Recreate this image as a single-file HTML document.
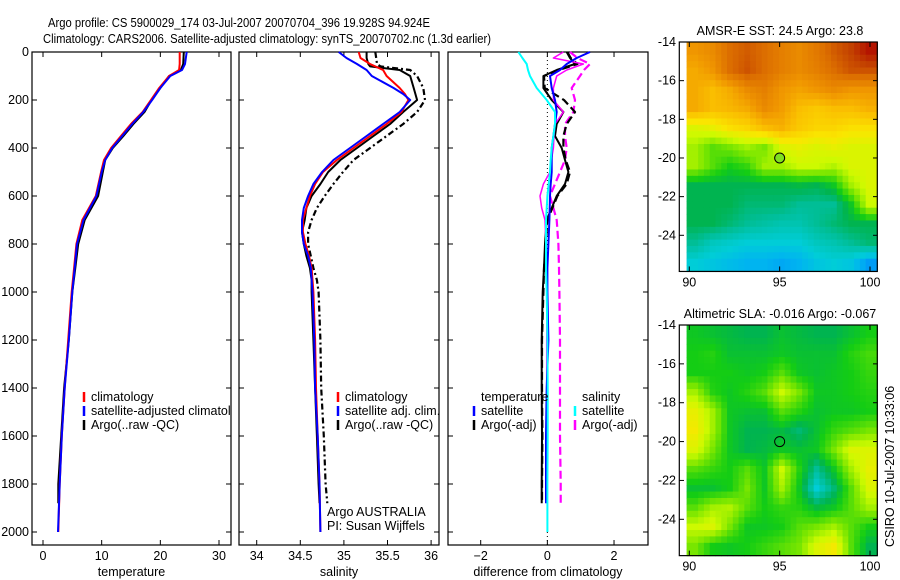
<!DOCTYPE html>
<html><head><meta charset="utf-8">
<style>
body{margin:0;background:#fff;}
svg{display:block;font-family:"Liberation Sans",sans-serif;}
text{font-size:12.5px;fill:#000;}
</style></head>
<body>
<svg id="chart" width="900" height="580" viewBox="0 0 900 580" xmlns="http://www.w3.org/2000/svg">
<defs><clipPath id="clip1"><rect x="32" y="52" width="199" height="493"/></clipPath></defs>
<rect width="900" height="580" fill="#fff"/>
<text x="48" y="27" font-size="14" textLength="382" lengthAdjust="spacingAndGlyphs">Argo profile: CS 5900029_174 03-Jul-2007 20070704_396 19.928S 94.924E</text>
<text x="43" y="43" font-size="14" textLength="448" lengthAdjust="spacingAndGlyphs">Climatology: CARS2006. Satellite-adjusted climatology: synTS_20070702.nc (1.3d earlier)</text>
<g id="g"></g>
</svg>
<script>
// ---- depth grids ----
const tDepth = [0,50,75,100,150,200,250,300,350,400,450,500,600,700,800,900,1000,1200,1400,1600,1800,2000];
const tClim  = [23.3,23.3,23.2,21.5,19.8,18.4,17.0,15.0,13.3,11.6,10.4,9.9,9.0,6.7,5.7,5.3,4.9,4.3,3.7,3.2,2.85,2.6];
const tSat   = [24.5,24.2,23.7,21.7,20.0,18.6,17.1,15.2,13.5,11.8,10.6,10.0,9.1,6.9,5.8,5.4,5.0,4.4,3.7,3.2,2.85,2.56];
const tArgo  = [24.0,23.9,23.5,21.5,20.0,18.5,17.3,15.4,13.7,11.9,10.6,10.2,9.4,7.1,6.0,5.5,5.0,4.4,3.6,3.1,2.6,2.6];
const sDepth = [0,25,50,75,100,150,175,200,250,300,350,400,450,500,550,600,650,700,750,800,850,900,1000,1200,1400,1600,1800,2000];
const sClim  = [35.17,35.19,35.30,35.45,35.49,35.64,35.70,35.74,35.66,35.49,35.30,35.11,34.92,34.76,34.67,34.61,34.57,34.53,34.53,34.56,34.60,34.63,34.65,34.67,34.68,34.70,34.72,34.73];
const sSat   = [34.94,35.03,35.15,35.26,35.32,35.57,35.68,35.76,35.64,35.45,35.26,35.07,34.88,34.75,34.65,34.59,34.54,34.52,34.52,34.54,34.59,34.62,34.64,34.66,34.67,34.70,34.72,34.73];
const aDepth = [0,25,50,60,75,100,150,200,250,300,350,400,450,500,550,600,650,700,750,800,850,900,950,1000,1200,1400,1600,1800,1880];
const sArgo  = [35.26,35.26,35.28,35.30,35.64,35.76,35.80,35.84,35.68,35.53,35.34,35.15,34.96,34.82,34.73,34.63,34.57,34.55,34.52,34.54,34.57,34.61,34.63,34.63,34.65,34.67,34.69,34.71,34.72];
const sArgoD = [35.36,35.37,35.38,35.42,35.76,35.84,35.91,35.93,35.84,35.68,35.49,35.30,35.11,34.99,34.88,34.78,34.69,34.63,34.59,34.59,34.62,34.65,34.69,34.71,34.73,34.74,34.77,34.79,34.81];
// ---- differences ----
const dDepth = [0,25,50,75,100,150,200,250,300,350,400,450,500,550,600,650,700,800,900,1000,1200,1400,1600,1800,1880];
const dTSat  = [1.28,0.88,0.58,0.38,0.08,0.13,0.23,0.28,0.23,0.18,0.13,0.13,0.13,0.1,0.08,0.07,0.06,0.03,0,0,0.03,-0.02,-0.04,-0.04,-0.04];
const dTArgo = [0.58,0.68,0.83,0.28,-0.12,-0.12,0.13,0.48,0.28,0.23,0.43,0.53,0.63,0.53,0.28,0.13,-0.02,-0.07,-0.1,-0.14,-0.17,-0.17,-0.16,-0.17,-0.17];
const dTArgoD= [0.6,0.7,0.9,0.35,-0.1,-0.08,0.5,0.83,0.58,0.48,0.48,0.55,0.68,0.58,0.3,0.15,0.0,-0.05,-0.1,-0.12,-0.16,-0.16,-0.15,-0.16,-0.16];
const dSSat  = [-0.87,-0.75,-0.62,-0.58,-0.52,-0.32,-0.02,0.23,0.23,0.18,0.13,0.1,0.08,0.04,0,-0.02,-0.04,-0.04,-0.04,-0.02,0,0.01,0.01,0,0];
const dSArgo = [0.48,0.18,1.08,0.58,0.28,0.18,0.18,0.48,0.23,0.2,0.18,0.12,0.08,-0.12,-0.22,-0.17,-0.07,-0.04,-0.02,0,-0.02,-0.02,-0.02,-0.02,-0.02];
const dSArgoD= [0.68,0.9,1.28,1.1,0.98,0.73,0.83,0.78,0.53,0.53,0.58,0.53,0.38,0.23,0.08,0.18,0.28,0.33,0.35,0.36,0.38,0.38,0.38,0.4,0.4];
// ---- map grids (colour index 0..1), rows lat 14..25, cols lon 90..100 ----
const sstGrid = [
[.78,.8,.85,.87,.85,.82,.8,.83,.87,.9,.95],
[.75,.78,.85,.88,.85,.82,.8,.82,.85,.88,.88],
[.75,.72,.75,.8,.82,.78,.76,.78,.8,.78,.78],
[.75,.72,.73,.75,.8,.77,.72,.7,.72,.72,.74],
[.6,.62,.66,.68,.72,.74,.7,.68,.68,.66,.66],
[.55,.5,.52,.55,.52,.6,.62,.6,.62,.6,.6],
[.55,.5,.46,.48,.55,.55,.58,.58,.56,.6,.6],
[.42,.42,.42,.42,.42,.42,.43,.42,.45,.55,.6],
[.42,.42,.42,.4,.4,.4,.38,.38,.38,.45,.58],
[.42,.42,.4,.38,.37,.36,.36,.38,.4,.42,.42],
[.38,.35,.34,.33,.33,.33,.33,.35,.36,.38,.4],
[.33,.32,.31,.3,.3,.29,.3,.32,.33,.32,.28]];
const slaGrid = [
[.45,.44,.43,.42,.42,.44,.43,.42,.42,.44,.46],
[.46,.47,.44,.44,.44,.45,.44,.44,.44,.47,.49],
[.46,.46,.46,.45,.46,.5,.45,.44,.45,.46,.48],
[.55,.47,.45,.47,.5,.58,.52,.45,.45,.46,.47],
[.62,.55,.45,.44,.44,.5,.47,.44,.45,.45,.46],
[.64,.55,.45,.42,.42,.43,.4,.44,.48,.5,.52],
[.6,.52,.45,.42,.43,.45,.44,.45,.52,.6,.6],
[.5,.48,.46,.5,.45,.58,.47,.38,.45,.55,.62],
[.44,.44,.46,.52,.45,.55,.45,.33,.4,.5,.6],
[.5,.55,.56,.5,.46,.48,.47,.43,.45,.5,.55],
[.58,.6,.52,.45,.45,.46,.5,.52,.55,.5,.46],
[.52,.46,.45,.46,.48,.5,.52,.6,.64,.5,.42]];
const depthTicks = [0,200,400,600,800,1000,1200,1400,1600,1800,2000];
const tTicks = [0,10,20,30];
const sTicks = [34,34.5,35,35.5,36];
const dTicks = [-2,0,2];
const latTicks = [14,16,18,20,22,24];
const lonTicks = [90,95,100];

const NS='http://www.w3.org/2000/svg';
const G=document.getElementById('g');
function el(tag,a,parent){const e=document.createElementNS(NS,tag);for(const k in a)e.setAttribute(k,a[k]);(parent||G).appendChild(e);return e;}
function txt(x,y,s,anchor,parent){const t=el('text',{x:x,y:y,'text-anchor':anchor||'start'},parent);t.textContent=s;return t;}

const yD = d => 52 + d*0.24;
const P = [
 {x0:32,x1:231,sx:v=>43+v*5.867,ticks:tTicks,lab:'temperature',name:'temperature'},
 {x0:239,x1:439,sx:v=>256.7+(v-34)*87.2,ticks:sTicks,lab:'salinity',name:'salinity'},
 {x0:448,x1:648,sx:v=>480.7+(v+2)*33.33,ticks:dTicks,lab:'difference from climatology',name:'difference'}];
P.forEach((p,i)=>{
  const g=el('g',{});
  
  
  const r=el('rect',{x:p.x0,y:52,width:p.x1-p.x0,height:493,fill:'none',stroke:'#000','stroke-width':1.2},g);
  
  
  depthTicks.forEach(d=>{
    el('line',{x1:p.x0,x2:p.x0+5,y1:yD(d),y2:yD(d),stroke:'#000'},g);
    el('line',{x1:p.x1,x2:p.x1-5,y1:yD(d),y2:yD(d),stroke:'#000'},g);
    if(i===0){const t=txt(29,yD(d)+4,String(d),'end',g);
      
      }
  });
  p.ticks.forEach(v=>{
    const x=p.sx(v);
    el('line',{x1:x,x2:x,y1:545,y2:540,stroke:'#000'},g);
    el('line',{x1:x,x2:x,y1:52,y2:57,stroke:'#000'},g);
    const t=txt(x,560,String(v).replace('-','\u2212'),'middle',g);
    
    
  });
  const at=txt((p.x0+p.x1)/2,576,p.lab,'middle',g);
  
  
});
function line(sx,xs,ds,color,dash,w,name){
  const pts=xs.map((v,i)=>sx(v).toFixed(1)+','+yD(ds[i]).toFixed(1)).join(' ');
  const a={points:pts,fill:'none',stroke:color,'stroke-width':w||2,'stroke-linejoin':'round'};
  if(dash)a['stroke-dasharray']=dash;
  const e=el('polyline',a);
  
  
}
line(P[0].sx,tArgo,tDepth.map(d=>Math.min(d,1880)),'#000',null,2,'temp-argo-line');
line(P[0].sx,tClim,tDepth,'#f00',null,2,'temp-climatology-line');
line(P[0].sx,tSat,tDepth,'#00f',null,2,'temp-satellite-line');
line(P[1].sx,sArgoD,aDepth,'#000','6,3,2,3',2.2,'sal-argo-raw-line');
line(P[1].sx,sArgo,aDepth,'#000',null,2,'sal-argo-line');
line(P[1].sx,sClim,sDepth,'#f00',null,2,'sal-climatology-line');
line(P[1].sx,sSat,sDepth,'#00f',null,2,'sal-satellite-line');
const z=P[2].sx(0);
const zl=el('line',{x1:z,x2:z,y1:52,y2:545,stroke:'#000','stroke-dasharray':'1,3'});


line(P[2].sx,dSArgoD,dDepth,'#f0f','8,4',2.2,'diff-sal-argo-dashed');
line(P[2].sx,dTArgoD,dDepth,'#000','8,4',2.2,'diff-temp-argo-dashed');
line(P[2].sx,dTArgo,dDepth,'#000',null,2,'diff-temp-argo-line');
line(P[2].sx,dSArgo,dDepth,'#f0f',null,1.5,'diff-sal-argo-line');
line(P[2].sx,dTSat,dDepth,'#00f',null,2,'diff-temp-satellite-line');
line(P[2].sx,dSSat,dDepth.map(d=>d===1880?2000:d),'#0ff',null,2,'diff-sal-satellite-line');

function legend(x,y,color,label,name,parent){
  const m=el('line',{x1:x,x2:x,y1:y-9,y2:y+1,stroke:color,'stroke-width':2.5},parent);
  
  
  const t=txt(x+7,y,label,'start',parent);
  
  
}
const lg1=el('g',{'clip-path':'url(#clip1)'});


legend(84,401,'#f00','climatology','legend-t-climatology',lg1);
legend(84,415,'#00f','satellite-adjusted climatology','legend-t-satellite',lg1);
legend(84,429,'#000','Argo(..raw -QC)','legend-t-argo',lg1);
legend(338,401,'#f00','climatology','legend-s-climatology');
legend(338,415,'#00f','satellite adj. clim.','legend-s-satellite');
legend(338,429,'#000','Argo(..raw -QC)','legend-s-argo');
const th=txt(481,401,'temperature');
legend(474,415,'#00f','satellite','legend-d-temp-satellite');
legend(474,429,'#000','Argo(-adj)','legend-d-temp-argo');
const sh=txt(582,401,'salinity');
legend(575,415,'#0ff','satellite','legend-d-sal-satellite');
legend(575,429,'#f0f','Argo(-adj)','legend-d-sal-argo');
const a1=txt(327,516,'Argo AUSTRALIA');
const a2=txt(327,530,'PI: Susan Wijffels');

const cStops=[[0.25,[0,120,255]],[0.3,[0,180,240]],[0.33,[0,205,215]],[0.38,[0,190,150]],[0.42,[0,180,80]],[0.46,[20,205,20]],[0.52,[120,230,0]],[0.58,[205,250,0]],[0.65,[250,230,0]],[0.72,[250,190,0]],[0.78,[240,150,0]],[0.85,[220,110,0]],[0.9,[195,65,0]],[0.95,[180,20,0]]];
function cmap(v){
  if(v<=cStops[0][0])return 'rgb('+cStops[0][1].join(',')+')';
  for(let k=1;k<cStops.length;k++){
    if(v<=cStops[k][0]){const a=cStops[k-1],b=cStops[k],t=(v-a[0])/(b[0]-a[0]);
      return 'rgb('+a[1].map((c,i)=>Math.round(c+(b[1][i]-c)*t)).join(',')+')';}
  }
  return 'rgb('+cStops[cStops.length-1][1].join(',')+')';
}
function map(grid,top,latScale,title,name,circleFill){
  const g=el('g',{});
  
  
  const X=lon=>689.3+(lon-90)*18.07, Y=lat=>top+(lat-14)*latScale;
  const sub=3, R=grid.length, C=grid[0].length;
  for(let i=0;i<R*sub;i++)for(let j=0;j<C*sub;j++){
    const fi=Math.min(Math.max((i+0.5)/sub-0.5,0),R-1), fj=Math.min(Math.max((j+0.5)/sub-0.5,0),C-1);
    const i0=Math.floor(fi),j0=Math.floor(fj),i1=Math.min(i0+1,R-1),j1=Math.min(j0+1,C-1),a=fi-i0,b=fj-j0;
    const v=grid[i0][j0]*(1-a)*(1-b)+grid[i1][j0]*a*(1-b)+grid[i0][j1]*(1-a)*b+grid[i1][j1]*a*b;
    const lon0=89.85+j*(10.55/(C*sub)), lat0=14+i*(11.87/(R*sub));
    el('rect',{x:X(lon0).toFixed(2),y:Y(lat0).toFixed(2),width:(10.55/(C*sub)*18.07+0.6).toFixed(2),height:(11.87/(R*sub)*latScale+0.6).toFixed(2),fill:cmap(v)},g);
  }
  const bot=Y(25.87);
  el('rect',{x:679.3,y:top,width:198,height:bot-top,fill:'none',stroke:'#000','stroke-width':1.2},g);
  latTicks.forEach(l=>{const y=Y(l);
    el('line',{x1:679.3,x2:684,y1:y,y2:y,stroke:'#000'},g);
    el('line',{x1:877.3,x2:873,y1:y,y2:y,stroke:'#000'},g);
    const t=txt(676,y+4,'-'+l,'end',g);
    
    });
  lonTicks.forEach(l=>{const x=X(l);
    el('line',{x1:x,x2:x,y1:top,y2:top+5,stroke:'#000'},g);
    el('line',{x1:x,x2:x,y1:bot,y2:bot-5,stroke:'#000'},g);
    const t=txt(x,bot+15,String(l),'middle',g);
    
    });
  const c=el('circle',{cx:X(95),cy:Y(20),r:5,fill:circleFill,stroke:'#000','stroke-width':1},g);
  
  
  const tt=txt(780,top-7,title,'middle',g);
  
  
}
map(sstGrid,42,19.33,'AMSR-E SST: 24.5 Argo: 23.8','sst-map','#7fe020');
map(slaGrid,325,19.43,'Altimetric SLA: -0.016 Argo: -0.067','sla-map','none');
const cs=el('text',{x:0,y:0,transform:'translate(894,547) rotate(-90)'});
cs.textContent='CSIRO 10-Jul-2007 10:33:06';


</script>
</body></html>
